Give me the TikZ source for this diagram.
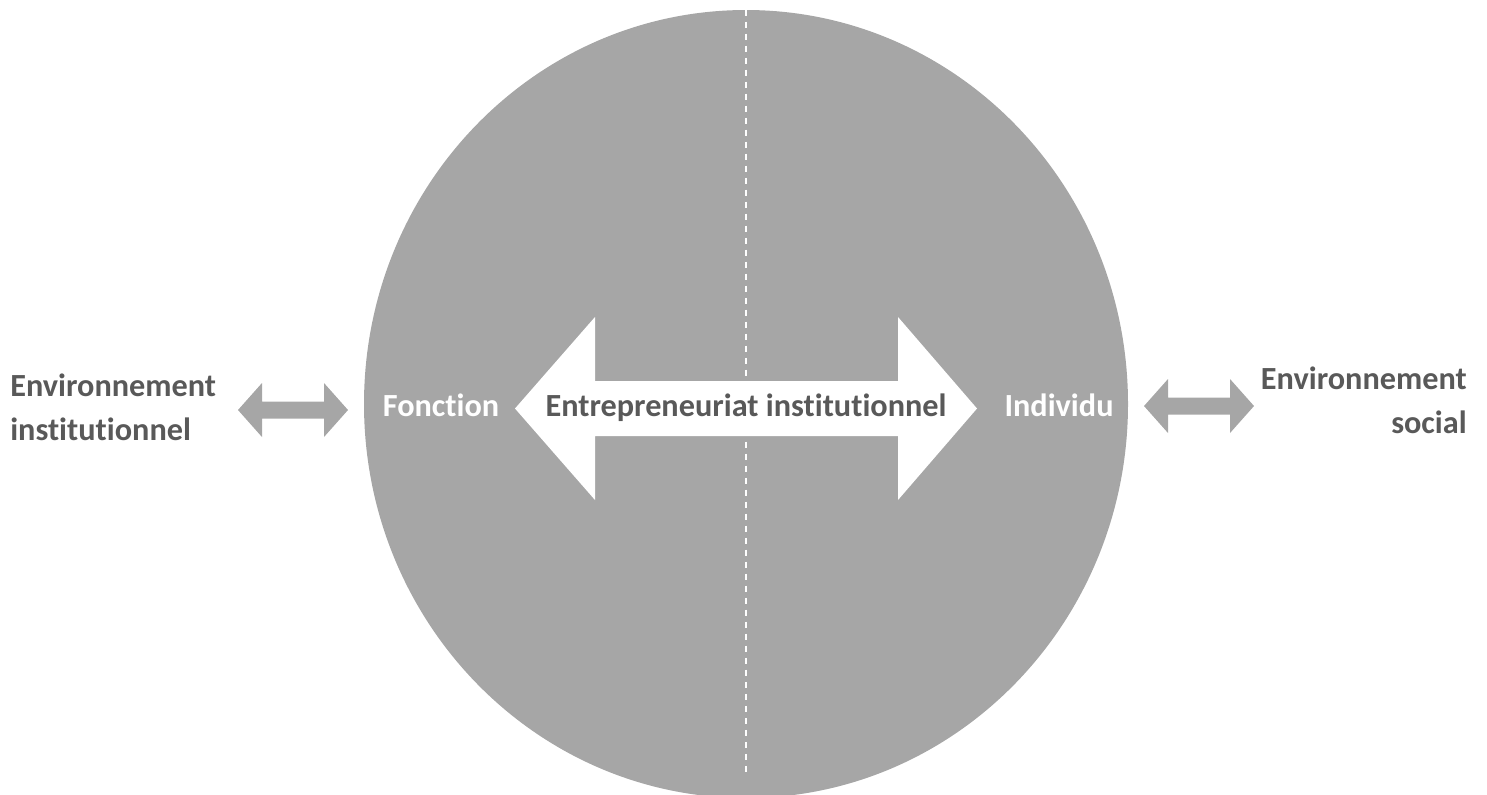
\documentclass[tikz,border=0pt]{standalone}
\usepackage{fontspec}
\setmainfont{Carlito}[Ligatures = NoCommon]
\usetikzlibrary{shapes.geometric}
\definecolor{circgray}{HTML}{A6A6A6}
\definecolor{txtgray}{HTML}{595959}

\begin{document}
\begin{tikzpicture}[x = 0.75pt, y = -0.75pt, lbl/.style = {font = \fontsize{24.2}{33}\selectfont\bfseries, inner sep = 0pt}, dark/.style = {lbl, text = txtgray}, light/.style = {lbl, text = white}]
	\useasboundingbox (0,0) rectangle (1487,794);
	\node[ellipse, fill = circgray, minimum width = 573pt, minimum height = 591pt, inner sep = 0pt] (circ) at (746,404) {};
	\coordinate (dend) at (746,773);
	\draw[white, line width = 1.5pt, dash pattern = on 5pt off 4pt] (circ.north) -- (dend);
	\fill[white] (515,408.5) -- (595,317) -- (595,381) -- (898,381) -- (898,317) -- (977,408.5) -- (898,500) -- (898,436) -- (595,436) -- (595,500) -- cycle;
	\node[dark] (entr) at (746,408) {Entrepreneuriat institutionnel};
	\node[light] (fonc) at (441,405) {Fonction};
	\node[light] (indiv) at (1059,405) {Individu};
	\node[dark, anchor = west, align = left] (envinst) at (10,407) {Environnement\\institutionnel};
	\node[dark, anchor = east, align = right] (envsoc) at (1467,400) {Environnement\\social};
	\coordinate (la) at (293,410);
	\coordinate (ra) at (1199,406);
	\fill[circgray] (la) ++(-55,0) -- ++(24,-27) -- ++(0,18.5) -- ++(62,0) -- ++(0,-18.5) -- ++(24,27) -- ++(-24,27) -- ++(0,-18.5) -- ++(-62,0) -- ++(0,18.5) -- cycle;
	\fill[circgray] (ra) ++(-55,0) -- ++(24,-27) -- ++(0,18.5) -- ++(62,0) -- ++(0,-18.5) -- ++(24,27) -- ++(-24,27) -- ++(0,-18.5) -- ++(-62,0) -- ++(0,18.5) -- cycle;
\end{tikzpicture}
\end{document}
